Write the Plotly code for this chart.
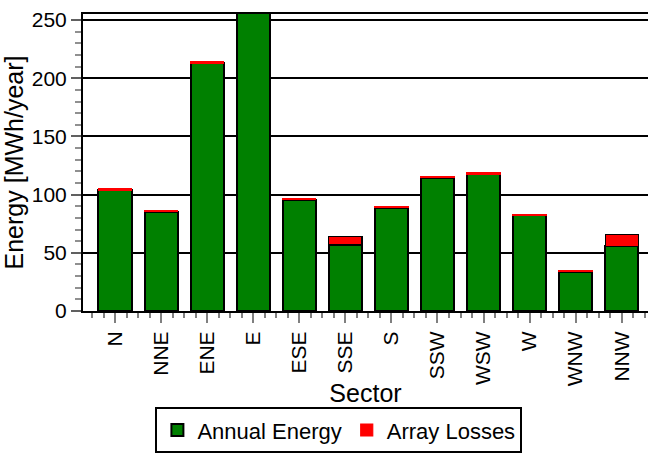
import plotly.graph_objects as go

# Annual energy per wind sector and the array losses stacked on top (MWh/year)
sectors = ["N", "NNE", "ENE", "E", "ESE", "SSE", "S", "SSW", "WSW", "W", "WNW", "NNW"]
annual_energy = [104.0, 85.2, 212.7, 256.0, 95.5, 57.0, 88.8, 114.4, 117.8, 82.2, 33.8, 55.5]
array_losses = [1.2, 1.0, 1.2, 1.0, 1.0, 7.0, 0.8, 1.0, 1.0, 0.8, 0.8, 10.0]

y_ticks = [0, 50, 100, 150, 200, 250]

GREEN = "#008000"
RED = "#ff0000"

x = list(range(len(sectors)))
# thin loss slivers are drawn as pure red strips, larger ones get a black outline
loss_edge = ["black" if v >= 3 else RED for v in array_losses]

fig = go.Figure()
fig.add_bar(
    x=x, y=annual_energy, name="Annual Energy", width=0.72,
    marker=dict(color=GREEN, line=dict(color="black", width=2)),
)
fig.add_bar(
    x=x, y=array_losses, name="Array Losses", width=0.72,
    marker=dict(color=RED, line=dict(color=loss_edge, width=1.2)),
)

fig.update_layout(
    barmode="stack",
    width=648, height=455,
    margin=dict(l=83, r=0, t=14, b=144),
    paper_bgcolor="white", plot_bgcolor="white",
    font=dict(family="Liberation Sans, Arial, sans-serif", size=21, color="black"),
    showlegend=True,
    legend=dict(
        orientation="h",
        traceorder="normal",
        xref="container", yref="container",
        x=0.523, xanchor="center", y=0.004, yanchor="bottom",
        bordercolor="black", borderwidth=2,
        font=dict(size=22),
        itemwidth=30,
        tracegroupgap=0,
    ),
)

fig.update_xaxes(
    range=[-0.695, 11.57],
    tickvals=x, ticktext=sectors, tickangle=-90,
    showline=True, linecolor="black", linewidth=2, mirror=True,
    ticks="outside", ticklen=10, tickwidth=2, tickcolor="#808080",
    minor=dict(dtick=0.25, tick0=0, ticks="outside", ticklen=5, tickwidth=1.5, tickcolor="#808080", showgrid=False),
    showgrid=False, zeroline=False,
    title=dict(text="Sector", standoff=0),
)
fig.update_yaxes(
    range=[0, 255.2],
    tickvals=y_ticks,
    showline=True, linecolor="black", linewidth=2,
    showgrid=True, gridcolor="black", gridwidth=1.6,
    ticks="outside", ticklen=10, tickwidth=2, tickcolor="#606060",
    minor=dict(dtick=10, ticks="outside", ticklen=6, tickwidth=1.5, tickcolor="#909090", showgrid=False),
    zeroline=False,
    title=dict(text="Energy [MWh/year]", standoff=4),
)

fig.write_html("out.html")
